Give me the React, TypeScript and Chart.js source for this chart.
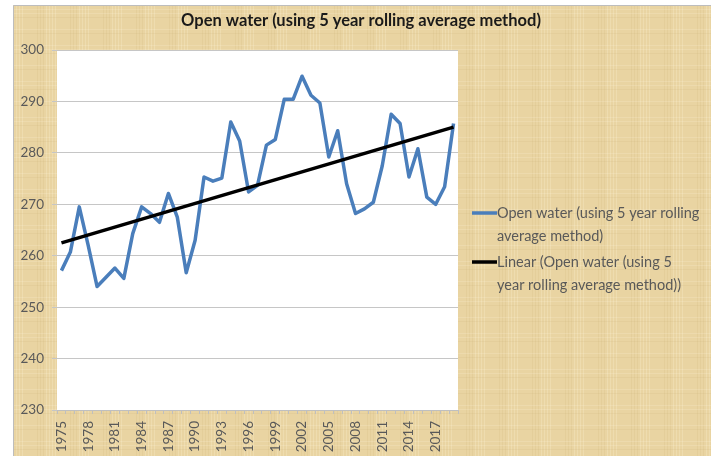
import { useEffect, useRef } from 'react';
import { Chart, registerables } from 'chart.js';

Chart.register(...registerables);

const categories = [
  '1975', '1976', '1977', '1978', '1979', '1980', '1981', '1982', '1983', '1984',
  '1985', '1986', '1987', '1988', '1989', '1990', '1991', '1992', '1993', '1994',
  '1995', '1996', '1997', '1998', '1999', '2000', '2001', '2002', '2003', '2004',
  '2005', '2006', '2007', '2008', '2009', '2010', '2011', '2012', '2013', '2014',
  '2015', '2016', '2017', '2018', '2019',
];

const openWater = [
  257.1, 260.7, 269.5, 262.0, 254.0, 255.8, 257.6, 255.6, 264.3, 269.5,
  268.2, 266.5, 272.1, 267.5, 256.7, 263.0, 275.3, 274.5, 275.1, 286.0,
  282.3, 272.4, 273.7, 281.5, 282.6, 290.4, 290.4, 294.9, 291.2, 289.7,
  279.2, 284.3, 274.0, 268.2, 269.1, 270.4, 277.5, 287.5, 285.7, 275.3,
  280.8, 271.4, 270.0, 273.4, 285.7,
];

// Linear trendline end values
const trendStart = 262.5;
const trendEnd = 285.0;

const yTicks = { min: 230, max: 300, step: 10 };

const titleText = 'Open water (using 5 year rolling average method)';
const legendSeries = ['Open water (using 5 year rolling', 'average method)'];
const legendTrend = ['Linear (Open water (using 5', 'year rolling average method))'];

const BLUE = '#4A7EBB';
const TEXT = '#595959';

const backgroundPlugin = {
  id: 'parchment',
  beforeDraw(chart: any) {
    const { ctx, width, height, chartArea } = chart;
    ctx.save();
    ctx.fillStyle = '#ffffff';
    ctx.fillRect(0, 0, width, height);
    const bx = 13, by = 5, bw = width - 18, bh = height - 9;
    ctx.fillStyle = '#E9D4A2';
    ctx.fillRect(bx, by, bw, bh);
    // subtle fibrous texture
    for (let x = bx; x < bx + bw; x += 3) {
      const k = (x * 7) % 11;
      ctx.fillStyle = k < 4 ? 'rgba(255,245,215,0.25)' : k < 7 ? 'rgba(200,165,100,0.12)' : 'rgba(0,0,0,0)';
      ctx.fillRect(x, by, 1, bh);
    }
    for (let y = by; y < by + bh; y += 4) {
      const k = (y * 5) % 9;
      ctx.fillStyle = k < 3 ? 'rgba(255,248,225,0.18)' : k < 5 ? 'rgba(190,155,95,0.10)' : 'rgba(0,0,0,0)';
      ctx.fillRect(bx, y, bw, 1);
    }
    ctx.strokeStyle = '#BDBDBD';
    ctx.lineWidth = 1;
    ctx.beginPath();
    ctx.moveTo(bx + 0.5, by + bh);
    ctx.lineTo(bx + 0.5, by + 0.5);
    ctx.lineTo(bx + bw, by + 0.5);
    ctx.stroke();
    // white plot area
    ctx.fillStyle = '#ffffff';
    ctx.fillRect(chartArea.left, chartArea.top, chartArea.right - chartArea.left, chartArea.bottom - chartArea.top);
    ctx.restore();
  },
};

const titleLegendPlugin = {
  id: 'titleAndLegend',
  afterDraw(chart: any) {
    const { ctx, chartArea, width } = chart;
    ctx.save();
    // title
    ctx.font = 'bold 16.5px Lato';
    ctx.fillStyle = '#1a1a1a';
    ctx.textAlign = 'center';
    ctx.textBaseline = 'middle';
    ctx.fillText(titleText, width / 2 + 3, 21);
    // legend
    const x0 = chartArea.right + 14;
    const xText = x0 + 25;
    const lineH = 23;
    const y1 = (chartArea.top + chartArea.bottom) / 2 - 17;
    const y2 = y1 + lineH + 26;
    ctx.font = '14.5px Lato';
    ctx.textBaseline = 'middle';
    ctx.textAlign = 'left';
    ctx.lineWidth = 3.5;
    const entries = [
      { color: BLUE, lines: legendSeries, y: y1 },
      { color: '#000000', lines: legendTrend, y: y2 },
    ];
    for (const e of entries) {
      ctx.strokeStyle = e.color;
      ctx.beginPath();
      ctx.moveTo(x0, e.y);
      ctx.lineTo(xText, e.y);
      ctx.stroke();
      ctx.fillStyle = TEXT;
      e.lines.forEach((t, i) => ctx.fillText(t, xText, e.y + i * lineH));
    }
    ctx.restore();
  },
};

export default function App() {
  const canvasRef = useRef<HTMLCanvasElement | null>(null);

  useEffect(() => {
    document.body.style.margin = '0';
    const canvas = canvasRef.current;
    if (!canvas) return;
    Chart.defaults.font.family = 'Lato';
    const trendData = categories.map((_, i) =>
      i === 0 ? trendStart : i === categories.length - 1 ? trendEnd : null
    );
    const chart = new Chart(canvas, {
      type: 'line',
      data: {
        labels: categories,
        datasets: [
          {
            label: 'Linear (Open water (using 5 year rolling average method))',
            data: trendData,
            borderColor: '#000000',
            borderWidth: 3.5,
            pointRadius: 0,
            spanGaps: true,
            order: 1,
          },
          {
            label: 'Open water (using 5 year rolling average method)',
            data: openWater,
            borderColor: BLUE,
            borderWidth: 3.5,
            pointRadius: 0,
            tension: 0,
            borderJoinStyle: 'round',
            order: 2,
          },
        ],
      },
      options: {
        animation: false,
        responsive: false,
        maintainAspectRatio: false,
        layout: { padding: { left: 0, right: 258, top: 50, bottom: 0 } },
        plugins: {
          legend: { display: false },
          tooltip: { enabled: false },
          title: { display: false },
        },
        scales: {
          x: {
            type: 'category',
            offset: true,
            grid: {
              display: true,
              drawOnChartArea: false,
              drawTicks: true,
              tickLength: 4,
              offset: true,
              color: '#BFBFBF',
            },
            border: { display: true, color: '#BFBFBF' },
            ticks: {
              autoSkip: false,
              minRotation: 90,
              maxRotation: 90,
              padding: 7,
              color: TEXT,
              font: { family: 'Lato', size: 13.5 },
              callback: (_v: any, index: number) => (index % 3 === 0 ? categories[index] : ''),
            },
            afterFit: (scale: any) => {
              scale.height = 50;
            },
          },
          y: {
            min: yTicks.min,
            max: yTicks.max,
            grid: { color: '#C6C6C6', tickLength: 5, drawTicks: true },
            border: { display: false },
            ticks: {
              stepSize: yTicks.step,
              padding: 8,
              color: TEXT,
              font: { family: 'Lato', size: 13.5 },
            },
            afterFit: (scale: any) => {
              scale.width = 57;
            },
          },
        },
      },
      plugins: [backgroundPlugin, titleLegendPlugin],
    } as any);
    return () => chart.destroy();
  }, []);

  return (
    <div style={{ position: 'fixed', left: 0, top: 0, width: 716, height: 460 }}>
      <canvas ref={canvasRef} width={716} height={460} style={{ width: 716, height: 460 }} />
    </div>
  );
}
